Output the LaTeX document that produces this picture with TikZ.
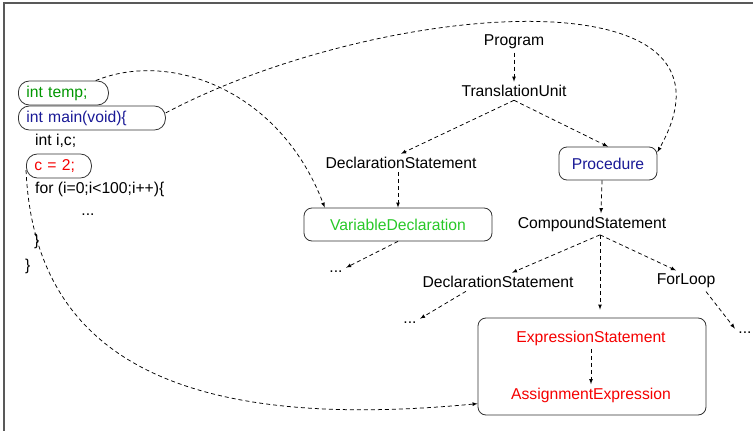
\documentclass[tikz,border=0pt]{standalone}
\usepackage{fontspec}
\setmainfont{Liberation Sans}
\usepackage{tikz}

\definecolor{codegreen}{RGB}{0,150,0}
\definecolor{treegreen}{RGB}{40,200,40}
\definecolor{procblue}{RGB}{25,25,150}
\definecolor{exprred}{RGB}{245,0,0}

\begin{document}
\begin{tikzpicture}[
    x=1pt, y=-1pt,
    font=\fontsize{15.7}{18}\selectfont,
    box/.style={rectangle, draw=black!80, line width=0.8pt, rounded corners=8pt, minimum height=33},
    codebox/.style={rectangle, draw=black!80, line width=0.8pt, rounded corners=11pt, minimum height=24, anchor=west, align=left, inner xsep=8},
    codeline/.style={anchor=west, inner sep=0pt},
    arrow/.style={->, dashed, dash pattern=on 4pt off 3pt, line width=0.75pt},
    >=latex
]
\useasboundingbox (0,0) rectangle (753,431);

% frame
\draw[black!65, line width=1.4pt] (4,431) -- (4,3) -- (753,3);

% Left side: source code
\node[codebox, text width=74, text=codegreen] (temp) at (18,93) {int temp;};
\node[codebox, text width=131, text=procblue] (main) at (18,118) {int main(void)\{};
\node[codeline] (decli) at (35,141) {int i,c;};
\node[codebox, text width=49, text=exprred] (c2) at (26,166) {c = 2;};
\node[codeline] (forl) at (35,189) {for (i=0;i<100;i++)\{};
\node (body) at (88,215) {...};
\node[codeline] (close1) at (34,241) {\}};
\node[codeline] (close2) at (25,266) {\}};

% Right side: syntax tree
\node (prog) at (514,42) {Program};
\node (tu) at (514,91) {TranslationUnit};
\node (decl) at (401,163) {DeclarationStatement};
\node[box, minimum width=98, text=procblue] (proc) at (608,163.5) {Procedure};
\node[box, minimum width=188, text=treegreen] (vardecl) at (398,224.5) {VariableDeclaration};
\node (dots1) at (336,272) {...};
\node (comp) at (592,224) {CompoundStatement};
\node (decl2) at (498,282) {DeclarationStatement};
\node (forloop) at (686,281) {ForLoop};
\node (dots2) at (410,323) {...};
\node (dots3) at (745,333) {...};

% statement block
\node[box, minimum width=228, minimum height=97] (blk) at (592,366.5) {};
\node[text=exprred] (exprst) at (591,338) {ExpressionStatement};
\node[text=exprred] (assign) at (591,395) {AssignmentExpression};

% tree edges
\draw[arrow] (prog) -- (tu);
\draw[arrow] (tu.south) -- (decl.north);
\draw[arrow] (tu.south) -- (proc.north);
\draw[arrow] (decl.south -| vardecl.north) -- (vardecl.north);
\draw[arrow] (vardecl.south) -- (dots1.north east);
\draw[arrow] ([xshift=-6]proc.south) -- ([xshift=9]comp.north);
\coordinate (cs) at ([xshift=8]comp.south);
\draw[arrow] (cs) -- ([xshift=14]decl2.north);
\draw[arrow] (cs) -- ([xshift=-10]forloop.north);
\draw[arrow, shorten >=8pt] (cs) -- (cs |- blk.north);
\draw[arrow] ([xshift=-32]decl2.south) -- (dots2.north east);
\draw[arrow] ([xshift=20]forloop.south) -- (dots3.north west);
\draw[arrow] (exprst) -- (assign);

% code to tree
\draw[arrow] (temp.21) .. controls (170,50) and (280,90) .. (vardecl.167);
\draw[arrow] (main.4) .. controls (380,0) and (760,-30) .. (proc.13);
\draw[arrow] (c2.187) .. controls (35,370) and (200,430) .. (blk.198);

\end{tikzpicture}
\end{document}
